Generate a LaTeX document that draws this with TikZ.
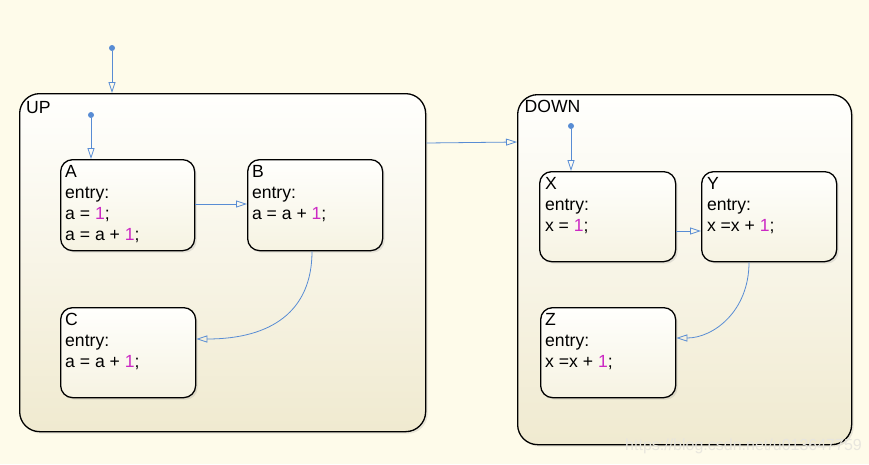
\documentclass[tikz,border=0pt]{standalone}
\usepackage{fontspec}
\setmainfont{Liberation Sans}
\usepackage{tikz}
\usetikzlibrary{arrows.meta,shadows}

\definecolor{bgcream}{RGB}{254,251,234}
\definecolor{trblue}{RGB}{88,140,212}
\definecolor{nummag}{RGB}{204,40,196}
\definecolor{boxtop}{RGB}{255,255,253}
\definecolor{boxbot}{RGB}{240,234,208}
\definecolor{statebot}{RGB}{246,243,226}
\definecolor{wmgray}{RGB}{232,230,222}
\newcommand{\one}{\textcolor{nummag}{1}}

\begin{document}
\begin{tikzpicture}[line join=round,>={Triangle[open,length=11pt,width=7pt]},x=1pt,y=-1pt,
      superstate/.style={draw=black,line width=1.3pt,rounded corners=20pt,anchor=north west,
         top color=boxtop,bottom color=boxbot,
         drop shadow={opacity=0.18,shadow xshift=2pt,shadow yshift=-2pt}},
      sfstate/.style={draw=black,line width=1.3pt,rounded corners=12pt,anchor=north west,
         top color=boxtop,bottom color=statebot,
         drop shadow={opacity=0.18,shadow xshift=2pt,shadow yshift=-2pt}},
      sftext/.style={anchor=north west,inner sep=0pt,align=left,
         font=\fontsize{17.6}{21}\selectfont},
      trans/.style={draw=trblue,line width=0.8pt},
      dot/.style={circle,fill=trblue,inner sep=0pt,minimum size=6pt},
      wmark/.style={text=wmgray,inner sep=0pt,font=\fontsize{16}{18}\selectfont}]
              \path[use as bounding box,fill=bgcream] (0,0) rectangle (869,464);

              % superstates
              \node[superstate,minimum width=406pt,minimum height=338pt] (UP) at (19,93) {};
              \node[superstate,minimum width=334pt,minimum height=350pt] (DOWN) at (517,94) {};
              \node[sftext] (UPtxt) at (26,101) {UP};
              \node[sftext] (DOWNtxt) at (524.5,100) {DOWN};

              % states
              \node[sfstate,minimum width=134pt,minimum height=91pt] (A) at (60,159) {};
              \node[sfstate,minimum width=135pt,minimum height=91pt] (B) at (247,159) {};
              \node[sfstate,minimum width=135pt,minimum height=90pt] (C) at (60,307) {};
              \node[sfstate,minimum width=136pt,minimum height=90pt] (X) at (539,171) {};
              \node[sfstate,minimum width=135pt,minimum height=90pt] (Y) at (701,171) {};
              \node[sfstate,minimum width=135pt,minimum height=90pt] (Z) at (540,307) {};

              \node[sftext] (Atxt) at ([shift={(5,6)}]A.north west) {A\\entry:\\a = \one;\\a = a + \one;};
              \node[sftext] (Btxt) at ([shift={(4.8,6)}]B.north west) {B\\entry:\\a = a + \one;};
              \node[sftext] (Ctxt) at ([shift={(5,6)}]C.north west) {C\\entry:\\a = a + \one;};
              \node[sftext] (Xtxt) at ([shift={(5.8,6)}]X.north west) {X\\entry:\\x = \one;};
              \node[sftext] (Ytxt) at ([shift={(5.8,6)}]Y.north west) {Y\\entry:\\x =x + \one;};
              \node[sftext] (Ztxt) at ([shift={(5,6)}]Z.north west) {Z\\entry:\\x =x + \one;};

              % default transitions
              \node[dot] (UPdef) at (112,48) {};
              \node[dot] (Adef) at (91,115) {};
              \node[dot] (Xdef) at (571,126) {};
              \draw[trans,->] (UPdef) -- (UPdef |- UP.north);
              \draw[trans,->] (Adef) -- (Adef |- A.north);
              \draw[trans,->] (Xdef) -- (Xdef |- X.north);

              % transitions
              \draw[trans,->] (UP.east |- 0,143) -- (DOWN.west |- 0,142);
              \draw[trans,->] (A.east |- 0,204) -- (B.west |- 0,204);
              \draw[trans,->] (X.east |- 0,231) -- (Y.west |- 0,231);
              \draw[trans,->] (B.south -| 312,0) .. controls +(0,60) and +(75,0) .. (C.east |- 0,339);
              \draw[trans,->] (Y.south -| 749,0) .. controls +(0,49) and +(37,0) .. (Z.east |- 0,338);

              \node[wmark,anchor=base west] (wm) at (625,450) {https://blog.csdn.net/u013647759};
\end{tikzpicture}
\end{document}
